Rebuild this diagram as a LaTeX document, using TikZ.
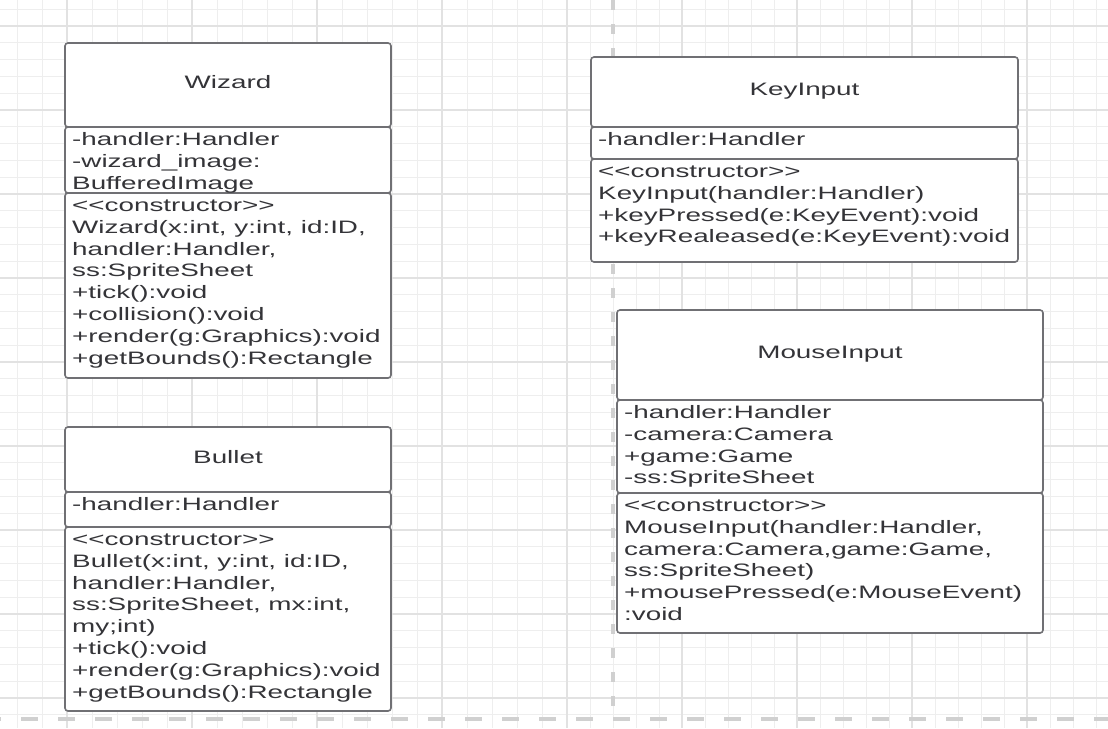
\documentclass[tikz,border=0pt]{standalone}
\usepackage{fontspec}
\usetikzlibrary{fit}
\newfontfamily\umlfont{Liberation Sans}[FakeStretch=1.545, Ligatures=TeXOff]
\definecolor{grid_minor}{RGB}{238, 238, 238}
\definecolor{grid_major}{RGB}{226, 226, 226}
\definecolor{page_gray}{RGB}{208, 208, 208}
\definecolor{uml_line}{RGB}{112, 112, 116}
\definecolor{uml_text}{RGB}{52, 52, 56}

\begin{document}
\begin{tikzpicture}[
    x=0.5pt, y=-0.5pt,
    minor_line/.style={
        draw=grid_minor,
        line width=0.5pt
    },
    major_line/.style={
        draw=grid_major,
        line width=1pt
    },
    page_break/.style={
        draw=page_gray,
        line width=2pt,
        #1
    },
    compartment/.style={
        rectangle,
        draw=uml_line,
        fill=white,
        line width=0.8pt,
        rounded corners=1.5pt,
        inner sep=0pt
    },
    class_name/.style={
        inner sep=0pt,
        text height=6.5pt,
        text depth=0pt,
        yshift=1.4pt,
        text=uml_text,
        font=\umlfont\fontsize{9}{10.9}\selectfont
    },
    members/.style={
        anchor=north west,
        inner sep=0pt,
        xshift=3.8pt,
        yshift=-1.8pt,
        align=left,
        text=uml_text,
        font=\umlfont\fontsize{9}{10.9}\selectfont
    },
]
\fill[white] (0,0) rectangle (1108,728);
\useasboundingbox (0,0) rectangle (1108,728);

% background grid
\foreach \gx in {17,42,...,567} \draw[minor_line] (\gx,0) -- (\gx,728);
\foreach \gx in {590,613,...,1096} \draw[minor_line] (\gx,0) -- (\gx,728);
\foreach \gy in {9.2,26,...,728} \draw[minor_line] (0,\gy) -- (1108,\gy);
\foreach \gx in {67,192,...,567} \draw[major_line] (\gx,0) -- (\gx,728);
\foreach \gx in {682,797,...,1027} \draw[major_line] (\gx,0) -- (\gx,728);
\foreach \gy in {26,110,...,698} \draw[major_line] (0,\gy) -- (1108,\gy);

% page breaks
\coordinate (break_top) at (613,0);
\coordinate (break_bottom) at (613,719);
\coordinate (break_left) at (-16,719);
\coordinate (break_right) at (1108,719);
\draw[page_break={dash pattern=on 5pt off 7pt}] (break_top) -- (break_bottom);
\draw[page_break={dash pattern=on 8.5pt off 10pt}] (break_left) -- (break_right);

% Wizard
\node[compartment, fit={(65,43) (391,127)}] (wizard_head) {};
\node[compartment, fit={(65,127) (391,193)}] (wizard_attr) {};
\node[compartment, fit={(65,193) (391,378)}] (wizard_ops) {};
\node[class_name] (wizard_name) at (wizard_head.center) {Wizard};
\node[members] (wizard_fields) at (wizard_attr.north west) {\strut-handler:Handler\\-wizard\_image:\\BufferedImage};
\node[members] (wizard_methods) at (wizard_ops.north west) {\strut<<constructor>>\\Wizard(x:int, y:int, id:ID,\\handler:Handler,\\ss:SpriteSheet\\+tick():void\\+collision():void\\+render(g:Graphics):void\\+getBounds():Rectangle};

% Bullet
\node[compartment, fit={(65,427) (391,492)}] (bullet_head) {};
\node[compartment, fit={(65,492) (391,527)}] (bullet_attr) {};
\node[compartment, fit={(65,527) (391,711)}] (bullet_ops) {};
\node[class_name] (bullet_name) at (bullet_head.center) {Bullet};
\node[members] (bullet_fields) at (bullet_attr.north west) {\strut-handler:Handler};
\node[members] (bullet_methods) at (bullet_ops.north west) {\strut<<constructor>>\\Bullet(x:int, y:int, id:ID,\\handler:Handler,\\ss:SpriteSheet, mx:int,\\my;int)\\+tick():void\\+render(g:Graphics):void\\+getBounds():Rectangle};

% KeyInput
\node[compartment, fit={(591,57) (1018,127)}] (key_head) {};
\node[compartment, fit={(591,127) (1018,159)}] (key_attr) {};
\node[compartment, fit={(591,159) (1018,262)}] (key_ops) {};
\node[class_name] (key_name) at (key_head.center) {KeyInput};
\node[members] (key_fields) at (key_attr.north west) {\strut-handler:Handler};
\node[members] (key_methods) at (key_ops.north west) {\strut<<constructor>>\\KeyInput(handler:Handler)\\+keyPressed(e:KeyEvent):void\\+keyRealeased(e:KeyEvent):void};

% MouseInput
\node[compartment, fit={(617,310) (1043,400)}] (mouse_head) {};
\node[compartment, fit={(617,400) (1043,493)}] (mouse_attr) {};
\node[compartment, fit={(617,493) (1043,633)}] (mouse_ops) {};
\node[class_name] (mouse_name) at (mouse_head.center) {MouseInput};
\node[members] (mouse_fields) at (mouse_attr.north west) {\strut-handler:Handler\\-camera:Camera\\+game:Game\\-ss:SpriteSheet};
\node[members] (mouse_methods) at (mouse_ops.north west) {\strut<<constructor>>\\MouseInput(handler:Handler,\\camera:Camera,game:Game,\\ss:SpriteSheet)\\+mousePressed(e:MouseEvent)\\:void};

\end{tikzpicture}
\end{document}
